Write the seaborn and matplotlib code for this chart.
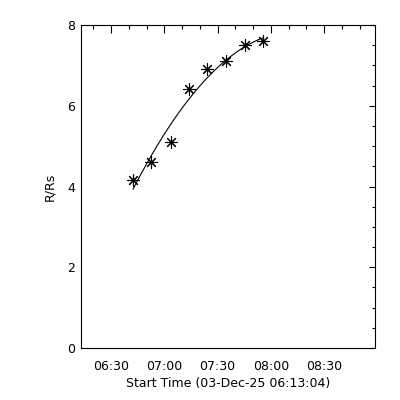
import numpy as np
import pandas as pd
import matplotlib
matplotlib.use("Agg")
import matplotlib.pyplot as plt
from matplotlib.ticker import FixedLocator, MultipleLocator
import seaborn as sns

obs_times = ['06:42:20', '06:52:40', '07:03:35', '07:13:40',
             '07:24:05', '07:34:45', '07:45:35', '07:55:40']
heights = [4.16, 4.60, 5.09, 6.41, 6.90, 7.11, 7.50, 7.60]

start_time = '06:13:04'
start_label = 'Start Time (03-Dec-25 06:13:04)'
tick_labels = ['06:30', '07:00', '07:30', '08:00', '08:30']


def to_sec(hms):
    parts = [int(p) for p in hms.split(':')]
    while len(parts) < 3:
        parts.append(0)
    return parts[0] * 3600 + parts[1] * 60 + parts[2]


t0 = to_sec(start_time)
df = pd.DataFrame({
    'minutes': [(to_sec(t) - t0) / 60.0 for t in obs_times],
    'height': heights,
})
tick_pos = [(to_sec(t) - t0) / 60.0 for t in tick_labels]

sns.set_style('white')
plt.rcParams['font.family'] = ['DejaVu Sans']

fig = plt.figure(figsize=(4, 4), dpi=100)
ax = fig.add_axes([0.2025, 0.13, 0.735, 0.8075])

# quadratic fit through the points, like the original height-time plot
sns.regplot(data=df, x='minutes', y='height', order=2, ci=None, scatter=False,
            color='black', line_kws={'linewidth': 0.8}, ax=ax)
sns.scatterplot(data=df, x='minutes', y='height', marker=(8, 2, 0), s=70,
                color='black', linewidth=0.8, ax=ax)

ax.set_xlim(0, 165.5)
ax.set_ylim(0, 8)

ax.xaxis.set_major_locator(FixedLocator(tick_pos))
ax.set_xticklabels(tick_labels)
minor_x = np.arange(tick_pos[0] - 10, 166, 10)
ax.xaxis.set_minor_locator(FixedLocator(minor_x))
ax.yaxis.set_major_locator(MultipleLocator(2))
ax.yaxis.set_minor_locator(MultipleLocator(0.5))

ax.tick_params(which='both', direction='in', top=True, right=True,
               color='black', width=0.8, labelsize=9, labelcolor='black')
ax.tick_params(axis='x', which='major', length=5.5, pad=9)
ax.tick_params(axis='x', which='minor', length=2.8)
ax.tick_params(axis='y', which='major', length=4.5, pad=4)
ax.tick_params(axis='y', which='minor', length=2.3)

for s in ax.spines.values():
    s.set_color('black')
    s.set_linewidth(0.8)

ax.set_xlabel(start_label, fontsize=9, labelpad=2.5, color='black')
ax.set_ylabel('R/Rs', fontsize=9, labelpad=8, color='black')

fig.savefig('out.png', dpi=100, facecolor='white')
